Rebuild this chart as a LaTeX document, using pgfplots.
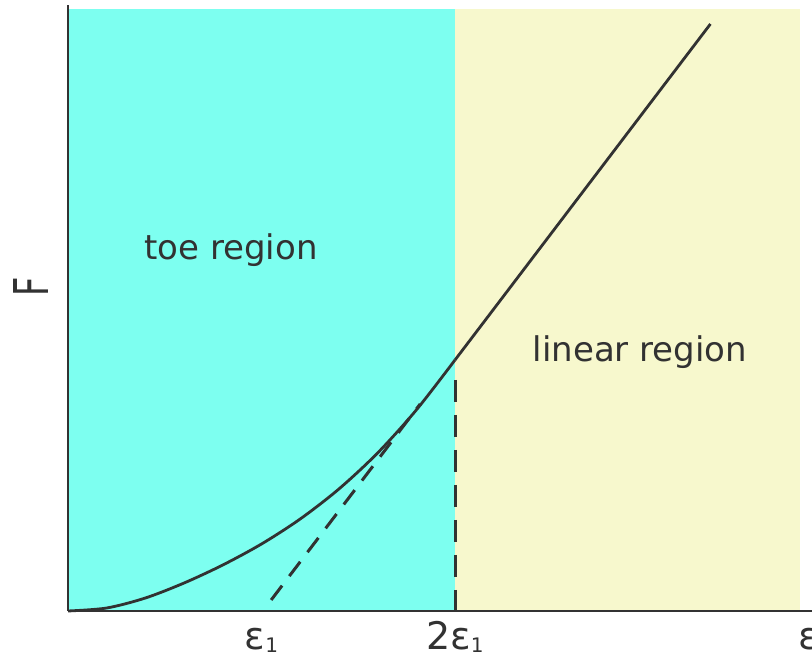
\documentclass[border=0pt]{standalone}
\usepackage{pgfplots}
\pgfplotsset{compat=1.18}
\usepackage{fontspec}
\setmainfont{DejaVu Sans}

\definecolor{toecyan}{RGB}{125,255,240}
\definecolor{linyellow}{RGB}{247,248,205}
\definecolor{ink}{RGB}{50,50,50}

% epsilon with its small subscript one
\newcommand{\epsone}{ε\raisebox{-1.5pt}{\fontsize{10}{10}\selectfont 1}}

\begin{document}
\begin{tikzpicture}
\begin{axis}[
  name=ax,
  scale only axis,
  width=372pt, height=303pt,
  xmin=0, xmax=3.845,
  ymin=0, ymax=6.06,
  axis x line=bottom, axis y line=left,
  axis line style={draw=ink, line width=1.4pt, -},
  axis on top,
  xtick={1,2,3.83},
  xticklabels={\epsone, 2\epsone, ε},
  ytick=\empty,
  major tick length=0pt,
  xticklabel style={font=\fontsize{19}{19}\selectfont, text=ink, anchor=base, yshift=-19.5pt},
  ylabel={\scalebox{0.7}[1]{F}},
  ylabel style={font=\fontsize{24}{24}\selectfont, text=ink,
    at={(axis description cs:-0.05,0.535)}, anchor=center},
  clip=false,
]
% shaded regions
\addplot[draw=none, fill=toecyan] coordinates {(0,6.02) (2,6.02)} \closedcycle;
\addplot[draw=none, fill=linyellow] coordinates {(2,6.02) (3.783,6.02)} \closedcycle;

% toe part of the curve
\addplot[ink, line width=1.4pt, smooth] coordinates {
  (0,0) (0.2,0.03) (0.4,0.13) (0.6,0.28) (0.8,0.46) (1.0,0.67)
  (1.2,0.92) (1.4,1.22) (1.6,1.58) (1.8,2.01) (2.0,2.51)
};
% linear part
\addplot[ink, line width=1.4pt] coordinates {(2.0,2.51) (3.32,5.87)};

% dashed tangent and dashed marker at 2 eps1
\addplot[ink, line width=1.5pt, dash pattern=on 9pt off 6pt] coordinates {(1.05,0.11) (1.82,2.07)};
\addplot[ink, line width=1.5pt, dash pattern=on 11pt off 6.5pt] coordinates {(2,2.31) (2,0)};

\node[font=\fontsize{17}{17}\selectfont, text=ink, anchor=base] at (axis cs:0.842,3.51) {toe region};
\node[font=\fontsize{17}{17}\selectfont, text=ink, anchor=base] at (axis cs:2.956,2.49) {linear region};
\end{axis}
\pgfresetboundingbox
\path ([xshift=-34pt,yshift=-24pt]ax.south west) rectangle ([yshift=2.5pt]ax.north east);
\end{tikzpicture}
\end{document}
